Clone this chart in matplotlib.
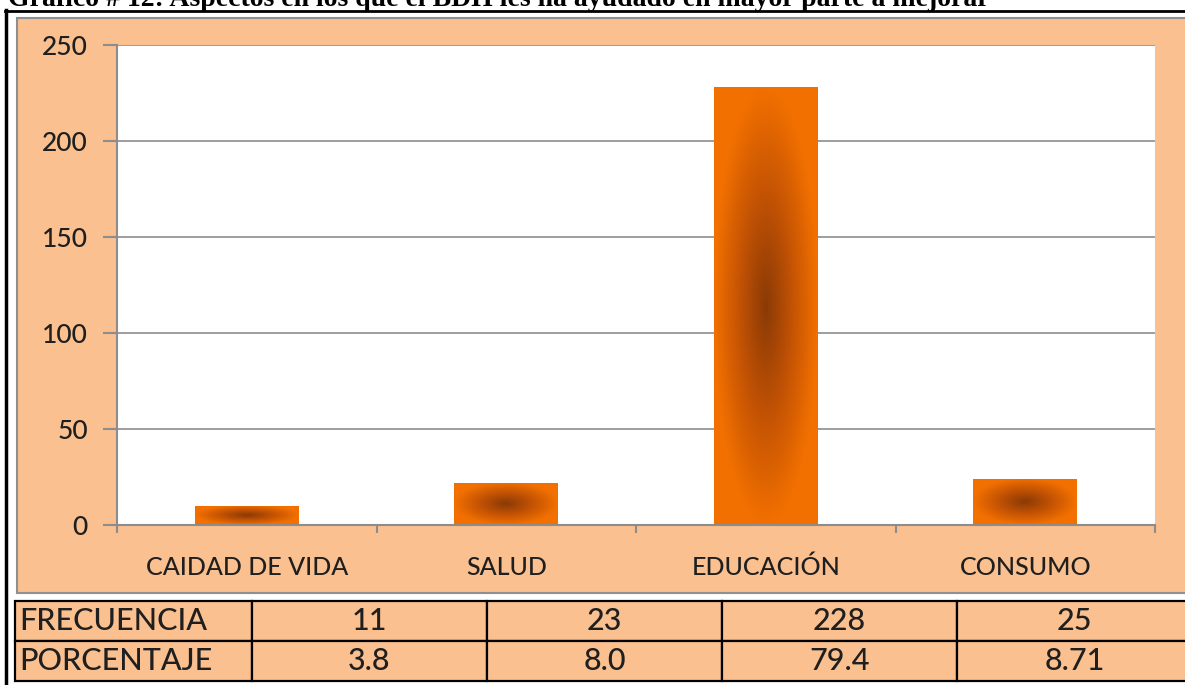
import numpy as np
import matplotlib
matplotlib.use('Agg')
import matplotlib.pyplot as plt
from matplotlib.colors import LinearSegmentedColormap
from matplotlib.patches import Rectangle
from matplotlib.lines import Line2D
from matplotlib.table import Table

# data
categories = ['CAIDAD DE VIDA', 'SALUD', 'EDUCACIÓN', 'CONSUMO']
bar_heights = [10, 22, 228, 24]
row_labels = ['FRECUENCIA', 'PORCENTAJE']
frecuencia = ['11', '23', '228', '25']
porcentaje = ['3.8', '8.0', '79.4', '8.71']
y_ticks = [0, 50, 100, 150, 200, 250]
title = 'Gráfico # 12: Aspectos en los que el BDH les ha ayudado en mayor parte a mejorar'

W, H = 1185, 685
PEACH = '#fac090'
GRID = '#8c8c8c'
TXT = '#1f1f1f'

plt.rcParams['font.family'] = ['Lato', 'DejaVu Sans']


def fx(px):
    return px / W


def fy(py):
    return 1 - py / H


fig = plt.figure(figsize=(W / 100, H / 100), dpi=100)

# page frame lines and the (cut off) caption above the chart
fig.add_artist(Line2D([fx(6), fx(6)], [fy(10), 0], color='black', lw=2.5, zorder=-2))
fig.add_artist(Line2D([fx(5), 1], [fy(11), fy(11)], color='black', lw=2, zorder=-2))
fig.text(fx(8), fy(6), title, family=['Liberation Serif'], weight='bold',
         fontsize=20, va='baseline', ha='left')

# chart area background
fig.add_artist(Rectangle((fx(17), fy(593)), fx(1200 - 17), fy(18) - fy(593),
                         facecolor=PEACH, edgecolor='#8f8f8f', lw=1.5, zorder=-1))

# plot area
ax = fig.add_axes([fx(117), fy(525), fx(1155 - 117), (525 - 45) / H])
ax.set_facecolor('white')
x = np.arange(len(categories))
bars = ax.bar(x, bar_heights, width=0.4, facecolor='none', edgecolor='none')

# radial gradient fill, dark centre to orange edges
cmap = LinearSegmentedColormap.from_list('bdh', ['#8a3a06', '#c25204', '#f27000'])
u, v = np.meshgrid(np.linspace(-1, 1, 200), np.linspace(-1, 1, 200))
d = np.clip(np.sqrt(u ** 2 + v ** 2), 0, 1)
for b in bars:
    x0, y0, w, h = b.get_x(), b.get_y(), b.get_width(), b.get_height()
    im = ax.imshow(d, cmap=cmap, vmin=0, vmax=1, extent=[x0, x0 + w, y0, y0 + h],
                   aspect='auto', zorder=2, interpolation='bilinear')
    im.set_clip_path(b)

ax.set_xlim(-0.5, len(categories) - 0.5)
ax.set_ylim(0, 250)
ax.set_yticks(y_ticks)
ax.yaxis.grid(True, color=GRID, lw=1.2)
ax.set_axisbelow(True)
for s in ['top', 'right']:
    ax.spines[s].set_visible(False)
for s in ['left', 'bottom']:
    ax.spines[s].set_color(GRID)
    ax.spines[s].set_linewidth(1.5)

ax.tick_params(axis='y', length=10, color=GRID, width=1.5, pad=11,
               labelsize=19, labelcolor=TXT)
ax.set_xticks(x, categories)
ax.tick_params(axis='x', which='major', length=0, pad=22, labelsize=18, labelcolor=TXT)
ax.set_xticks(np.arange(-0.5, len(categories), 1), minor=True)
ax.tick_params(axis='x', which='minor', length=6, color=GRID, width=1.5)
for lab in ax.get_xticklabels() + ax.get_yticklabels():
    lab.set_fontweight('medium')

# data table under the chart
tax = fig.add_axes([fx(15), fy(681), fx(1192 - 15), (681 - 601) / H])
tax.axis('off')
tbl = Table(tax, bbox=[0, 0, 1, 1])
widths = [237] + [235] * len(categories)
rows = [[row_labels[0]] + frecuencia, [row_labels[1]] + porcentaje]
for r, row in enumerate(rows):
    for c, val in enumerate(row):
        cell = tbl.add_cell(r, c, width=widths[c], height=1, text=val,
                            loc='left' if c == 0 else 'center', facecolor=PEACH)
        cell.PAD = 0.02
        cell.set_edgecolor('black')
        cell.set_linewidth(1.6)
        cell.get_text().set_color(TXT)
        cell.get_text().set_fontweight('medium')
tbl.auto_set_font_size(False)
tbl.set_fontsize(22)
tax.add_table(tbl)

fig.savefig('out.png', dpi=100)
